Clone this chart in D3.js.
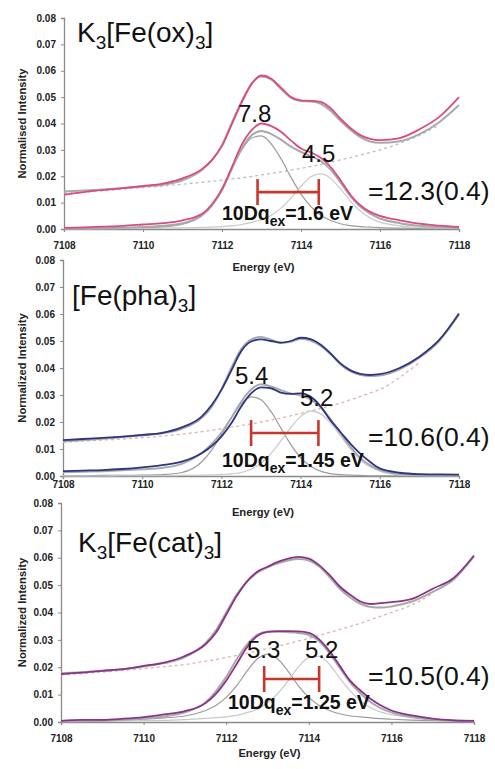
<!DOCTYPE html>
<html><head><meta charset="utf-8">
<script src="https://cdn.jsdelivr.net/npm/d3@7"></script>
<style>body{margin:0;background:#fff}svg{display:block}text{font-family:"Liberation Sans",Arial,Helvetica,sans-serif}</style>
</head><body><svg id="c" width="495" height="769"></svg>
<script>
// ---------- data ----------
const energy = [7108, 7108.5, 7109, 7109.5, 7110, 7110.5, 7111, 7111.5, 7111.75, 7112, 7112.25, 7112.5, 7112.75, 7113, 7113.25, 7113.5, 7113.75, 7114, 7114.25, 7114.5, 7114.75, 7115, 7115.25, 7115.5, 7115.75, 7116, 7116.5, 7117, 7117.5, 7118];
const xTicks = [7108, 7110, 7112, 7114, 7116, 7118];
const yTicks = [0, 0.01, 0.02, 0.03, 0.04, 0.05, 0.06, 0.07, 0.08];

// Panel 1: K3[Fe(ox)3]
const p1TopData = [0.0130, 0.0140, 0.0148, 0.0155, 0.0163, 0.0172, 0.0192, 0.0228, 0.0262, 0.0315, 0.0398, 0.0480, 0.0550, 0.0582, 0.0570, 0.0535, 0.0500, 0.0488, 0.0486, 0.0482, 0.0458, 0.0418, 0.0383, 0.0356, 0.0342, 0.0337, 0.0345, 0.0378, 0.0425, 0.0500];
const p1TopFit  = [0.0142, 0.0146, 0.0150, 0.0155, 0.0161, 0.0168, 0.0185, 0.0225, 0.0262, 0.0318, 0.0403, 0.0485, 0.0552, 0.0578, 0.0566, 0.0530, 0.0497, 0.0485, 0.0483, 0.0475, 0.0448, 0.0410, 0.0376, 0.0348, 0.0332, 0.0327, 0.0333, 0.0360, 0.0405, 0.0470];
const p1LowData = [0.0004, 0.0006, 0.0009, 0.0012, 0.0017, 0.0022, 0.0033, 0.0058, 0.0095, 0.0150, 0.0235, 0.0320, 0.0375, 0.0400, 0.0390, 0.0368, 0.0335, 0.0305, 0.0290, 0.0270, 0.0235, 0.0185, 0.0130, 0.0090, 0.0065, 0.0050, 0.0033, 0.0020, 0.0013, 0.0008];
const p1LowFit  = [0.0001, 0.0002, 0.0003, 0.0005, 0.0008, 0.0012, 0.0022, 0.0052, 0.0090, 0.0148, 0.0228, 0.0305, 0.0355, 0.0372, 0.0360, 0.0338, 0.0312, 0.0292, 0.0276, 0.0258, 0.0225, 0.0177, 0.0125, 0.0085, 0.0058, 0.0040, 0.0022, 0.0012, 0.0007, 0.0004];
const p1Comp1   = [0.0001, 0.0001, 0.0002, 0.0003, 0.0005, 0.0008, 0.0018, 0.0052, 0.0092, 0.0155, 0.0232, 0.0300, 0.0345, 0.0353, 0.0322, 0.0265, 0.0195, 0.0132, 0.0085, 0.0052, 0.0032, 0.0020, 0.0013, 0.0009, 0.0007, 0.0005, 0.0003, 0.0002, 0.0002, 0.0001];
const p1Comp2   = [0.0001, 0.0001, 0.0001, 0.0002, 0.0002, 0.0003, 0.0004, 0.0006, 0.0007, 0.0009, 0.0012, 0.0017, 0.0025, 0.0035, 0.0052, 0.0080, 0.0118, 0.0162, 0.0198, 0.0209, 0.0192, 0.0152, 0.0106, 0.0068, 0.0042, 0.0026, 0.0012, 0.0006, 0.0003, 0.0002];
const p1Bg      = [0.0135, 0.0140, 0.0145, 0.0151, 0.0157, 0.0163, 0.0170, 0.0177, 0.0181, 0.0185, 0.0190, 0.0194, 0.0199, 0.0205, 0.0211, 0.0217, 0.0223, 0.0230, 0.0237, 0.0245, 0.0253, 0.0262, 0.0271, 0.0280, 0.0290, 0.0300, 0.0325, 0.0355, 0.0395, null];

// Panel 2: [Fe(pha)3]
const p2TopData = [0.0133, 0.0137, 0.0141, 0.0146, 0.0152, 0.0160, 0.0180, 0.0220, 0.0262, 0.0319, 0.0390, 0.0462, 0.0498, 0.0506, 0.0500, 0.0494, 0.0500, 0.0512, 0.0507, 0.0487, 0.0455, 0.0418, 0.0392, 0.0378, 0.0374, 0.0377, 0.0400, 0.0442, 0.0504, 0.0602];
const p2TopFit  = [0.0128, 0.0133, 0.0138, 0.0144, 0.0150, 0.0158, 0.0175, 0.0215, 0.0255, 0.0320, 0.0400, 0.0470, 0.0505, 0.0515, 0.0505, 0.0493, 0.0497, 0.0508, 0.0502, 0.0483, 0.0452, 0.0414, 0.0388, 0.0375, 0.0370, 0.0372, 0.0395, 0.0438, 0.0500, 0.0598];
const p2LowData = [0.0018, 0.0020, 0.0022, 0.0026, 0.0032, 0.0040, 0.0053, 0.0084, 0.0110, 0.0146, 0.0195, 0.0257, 0.0306, 0.0328, 0.0325, 0.0309, 0.0304, 0.0306, 0.0294, 0.0259, 0.0207, 0.0164, 0.0121, 0.0084, 0.0053, 0.0028, 0.0012, 0.0007, 0.0006, 0.0005];
const p2LowFit  = [0.0014, 0.0016, 0.0018, 0.0021, 0.0025, 0.0030, 0.0045, 0.0085, 0.0118, 0.0160, 0.0215, 0.0275, 0.0320, 0.0340, 0.0332, 0.0318, 0.0306, 0.0298, 0.0284, 0.0256, 0.0212, 0.0160, 0.0110, 0.0068, 0.0040, 0.0022, 0.0008, 0.0004, 0.0003, 0.0002];
const p2Comp1   = [0.0001, 0.0001, 0.0002, 0.0002, 0.0003, 0.0005, 0.0013, 0.0052, 0.0095, 0.0153, 0.0216, 0.0268, 0.0293, 0.0282, 0.0239, 0.0178, 0.0117, 0.0068, 0.0036, 0.0018, 0.0009, 0.0005, 0.0003, 0.0002, 0.0001, 0.0001, 0.0001, 0.0000, 0.0000, 0.0000];
const p2Comp2   = [0.0000, 0.0000, 0.0000, 0.0001, 0.0001, 0.0001, 0.0002, 0.0003, 0.0004, 0.0006, 0.0008, 0.0013, 0.0025, 0.0047, 0.0083, 0.0130, 0.0179, 0.0220, 0.0240, 0.0231, 0.0197, 0.0150, 0.0101, 0.0060, 0.0034, 0.0018, 0.0005, 0.0002, 0.0001, 0.0001];
const p2Bg      = [0.0125, 0.0129, 0.0133, 0.0137, 0.0142, 0.0148, 0.0155, 0.0164, 0.0169, 0.0175, 0.0181, 0.0187, 0.0193, 0.0200, 0.0207, 0.0215, 0.0223, 0.0232, 0.0241, 0.0250, 0.0260, 0.0270, 0.0282, 0.0294, 0.0307, 0.0320, 0.0365, 0.0420, null, null];

// Panel 3: K3[Fe(cat)3]
const p3TopData = [0.0175, 0.0180, 0.0187, 0.0193, 0.0205, 0.0217, 0.0241, 0.0284, 0.0326, 0.0392, 0.0459, 0.0513, 0.0549, 0.0567, 0.0585, 0.0597, 0.0603, 0.0597, 0.0573, 0.0537, 0.0495, 0.0465, 0.0440, 0.0431, 0.0434, 0.0438, 0.0450, 0.0487, 0.0525, 0.0608];
const p3TopFit  = [0.0178, 0.0182, 0.0187, 0.0193, 0.0203, 0.0215, 0.0237, 0.0288, 0.0335, 0.0400, 0.0465, 0.0512, 0.0545, 0.0565, 0.0580, 0.0590, 0.0595, 0.0590, 0.0568, 0.0530, 0.0487, 0.0455, 0.0432, 0.0420, 0.0418, 0.0422, 0.0440, 0.0475, 0.0520, 0.0605];
const p3LowData = [0.0004, 0.0008, 0.0008, 0.0012, 0.0018, 0.0028, 0.0040, 0.0069, 0.0103, 0.0151, 0.0211, 0.0272, 0.0314, 0.0329, 0.0332, 0.0332, 0.0331, 0.0326, 0.0302, 0.0259, 0.0205, 0.0151, 0.0115, 0.0084, 0.0060, 0.0042, 0.0024, 0.0012, 0.0006, 0.0004];
const p3LowFit  = [0.0002, 0.0003, 0.0005, 0.0008, 0.0013, 0.0020, 0.0035, 0.0072, 0.0112, 0.0165, 0.0228, 0.0283, 0.0318, 0.0330, 0.0330, 0.0328, 0.0325, 0.0318, 0.0295, 0.0252, 0.0198, 0.0145, 0.0105, 0.0072, 0.0050, 0.0035, 0.0018, 0.0009, 0.0005, 0.0003];
const p3Comp1   = [0.0003, 0.0004, 0.0005, 0.0007, 0.0010, 0.0015, 0.0022, 0.0042, 0.0060, 0.0090, 0.0132, 0.0185, 0.0230, 0.0247, 0.0230, 0.0185, 0.0132, 0.0090, 0.0060, 0.0042, 0.0030, 0.0022, 0.0019, 0.0015, 0.0012, 0.0010, 0.0007, 0.0005, 0.0004, 0.0003];
const p3Comp2   = [0.0002, 0.0002, 0.0003, 0.0004, 0.0005, 0.0006, 0.0009, 0.0013, 0.0016, 0.0019, 0.0024, 0.0034, 0.0047, 0.0070, 0.0104, 0.0150, 0.0201, 0.0235, 0.0240, 0.0211, 0.0160, 0.0114, 0.0077, 0.0052, 0.0036, 0.0027, 0.0016, 0.0011, 0.0008, 0.0006];
const p3Bg      = [0.0172, 0.0177, 0.0182, 0.0188, 0.0195, 0.0202, 0.0210, 0.0222, 0.0228, 0.0236, 0.0243, 0.0251, 0.0259, 0.0268, 0.0277, 0.0286, 0.0296, 0.0306, 0.0316, 0.0327, 0.0338, 0.0349, 0.0361, 0.0374, 0.0387, 0.0400, 0.0428, 0.0470, null, null];

// annotations
const peakLabels = [["7.8", "4.5"], ["5.4", "5.2"], ["5.3", "5.2"]];
const ratioLabels = ["=12.3(0.4)", "=10.6(0.4)", "=10.5(0.4)"];
const splitValues = ["1.6", "1.45", "1.25"];
const splitBars = [[7112.9, 7114.45, 0.014], [7112.75, 7114.45, 0.0159], [7112.92, 7114.25, 0.0157]];
const yTitles = ["Normalised Intensity", "Normalized Intensity", "Normalized Intensity"];
const xTitle = "Energy (eV)";
const titles = [
  [["K", false], ["3", true], ["[Fe(ox)", false], ["3", true], ["]", false]],
  [["[Fe(pha)", false], ["3", true], ["]", false]],
  [["K", false], ["3", true], ["[Fe(cat)", false], ["3", true], ["]", false]]
];
const colors = ["#d84c86", "#2e3583", "#8a3489"];

// ---------- layout ----------
const layout = [
  {x0: 64, x1: 459, yBot: 229, yTop: 18, tickY: 249, xtY: 271, ylX: 22,
   title: [77, 42], peaks: [[238, 122], [302, 162]], ratio: [368, 200], split: [222, 220]},
  {x0: 63, x1: 459, yBot: 476, yTop: 260, tickY: 488, xtY: 516, ylX: 22,
   title: [72, 305], peaks: [[235, 384], [300, 406]], ratio: [368, 446], split: [222, 467]},
  {x0: 61, x1: 474, yBot: 722, yTop: 503, tickY: 742, xtY: 757, ylX: 22,
   title: [78, 552], peaks: [[247, 658], [305, 658]], ratio: [368, 685], split: [228, 709]}
];
const series = [
  {top: p1TopData, topFit: p1TopFit, low: p1LowData, lowFit: p1LowFit, c1: p1Comp1, c2: p1Comp2, bg: p1Bg},
  {top: p2TopData, topFit: p2TopFit, low: p2LowData, lowFit: p2LowFit, c1: p2Comp1, c2: p2Comp2, bg: p2Bg},
  {top: p3TopData, topFit: p3TopFit, low: p3LowData, lowFit: p3LowFit, c1: p3Comp1, c2: p3Comp2, bg: p3Bg}
];

const svg = d3.select("#c");
svg.append("rect").attr("width", 495).attr("height", 769).attr("fill", "#fff");

layout.forEach((L, i) => {
  const S = series[i];
  const x = d3.scaleLinear().domain([7108, 7118]).range([L.x0, L.x1]);
  const y = d3.scaleLinear().domain([0, 0.08]).range([L.yBot, L.yTop]);
  const g = svg.append("g");

  // axes
  const ya = g.append("g").attr("transform", `translate(${L.x0},0)`)
    .call(d3.axisLeft(y).tickValues(yTicks).tickFormat(d3.format(".2f")).tickSize(3).tickPadding(5));
  const xa = g.append("g").attr("transform", `translate(0,${L.yBot})`)
    .call(d3.axisBottom(x).tickValues(xTicks).tickFormat(d3.format("d")).tickSize(3).tickPadding(0));
  [ya, xa].forEach(a => {
    a.select(".domain").attr("stroke", "#8a8a8a").attr("stroke-width", 1.3);
    a.selectAll(".tick line").attr("stroke", "#8a8a8a");
    a.selectAll("text").attr("fill", "#222").attr("font-weight", "bold").attr("font-size", 10)
      .attr("font-family", '"Liberation Sans",Arial,sans-serif');
  });
  xa.selectAll(".tick text").attr("y", L.tickY - L.yBot).attr("dy", 0);

  // axis titles
  g.append("text").attr("x", (L.x0 + L.x1) / 2 + 2).attr("y", L.xtY).attr("text-anchor", "middle")
    .attr("font-weight", "bold").attr("font-size", 11.2).attr("fill", "#222").text(xTitle);
  g.append("text").attr("transform", `translate(${L.ylX + 4},${(L.yBot + L.yTop) / 2}) rotate(-90)`)
    .attr("text-anchor", "middle").attr("font-weight", "bold").attr("font-size", 11.2).attr("fill", "#222")
    .text(yTitles[i]);

  const line = d3.line().defined(d => d[1] != null)
    .x(d => x(d[0])).y(d => y(d[1])).curve(d3.curveMonotoneX);
  const pts = arr => energy.map((e, k) => [e, arr[k]]);

  // background (dashed)
  g.append("path").attr("d", line(pts(S.bg))).attr("fill", "none")
    .attr("stroke", i === 0 ? "#bdbdbd" : "#ddb5ad").attr("stroke-width", 1.3).attr("stroke-dasharray", "3,3");
  // components
  g.append("path").attr("d", line(pts(S.c1))).attr("fill", "none").attr("stroke", "#9c9c9c").attr("stroke-width", 1.2);
  g.append("path").attr("d", line(pts(S.c2))).attr("fill", "none").attr("stroke", "#c9c9c9").attr("stroke-width", 1.2);
  // fits
  [S.topFit, S.lowFit].forEach(a => g.append("path").attr("d", line(pts(a))).attr("fill", "none")
    .attr("stroke", "#a9a9a9").attr("stroke-width", 2));
  // data
  [S.top, S.low].forEach(a => g.append("path").attr("d", line(pts(a))).attr("fill", "none")
    .attr("stroke", colors[i]).attr("stroke-width", 1.8));

  // split bar
  const [b0, b1, bv] = splitBars[i];
  const by = y(bv);
  const barG = g.append("g").attr("stroke", "#c9372c").attr("stroke-width", 2.6);
  barG.append("line").attr("x1", x(b0)).attr("x2", x(b1)).attr("y1", by).attr("y2", by);
  [b0, b1].forEach(b => barG.append("line").attr("x1", x(b)).attr("x2", x(b)).attr("y1", by - 13).attr("y2", by + 13));

  // title with subscripts
  const t = g.append("text").attr("x", L.title[0]).attr("y", L.title[1]).attr("font-size", 28).attr("fill", "#111");
  let shift = 0;
  titles[i].forEach(([s, sub]) => {
    const target = sub ? 7 : 0;
    t.append("tspan").attr("font-size", sub ? 19 : 28).attr("dy", target - shift).text(s);
    shift = target;
  });

  // peak labels
  peakLabels[i].forEach((s, k) => g.append("text").attr("x", L.peaks[k][0]).attr("y", L.peaks[k][1])
    .attr("font-size", 24).attr("fill", "#111").text(s));
  // ratio label
  g.append("text").attr("x", L.ratio[0]).attr("y", L.ratio[1]).attr("font-size", 26.5).attr("fill", "#111").text(ratioLabels[i]);
  // 10Dq label
  const q = g.append("text").attr("x", L.split[0]).attr("y", L.split[1]).attr("font-size", 19.5)
    .attr("font-weight", "bold").attr("fill", "#111");
  q.append("tspan").text("10Dq");
  q.append("tspan").attr("font-size", 14).attr("dy", 6).text("ex");
  q.append("tspan").attr("dy", -6).text("=" + splitValues[i] + " eV");
});
</script></body></html>
